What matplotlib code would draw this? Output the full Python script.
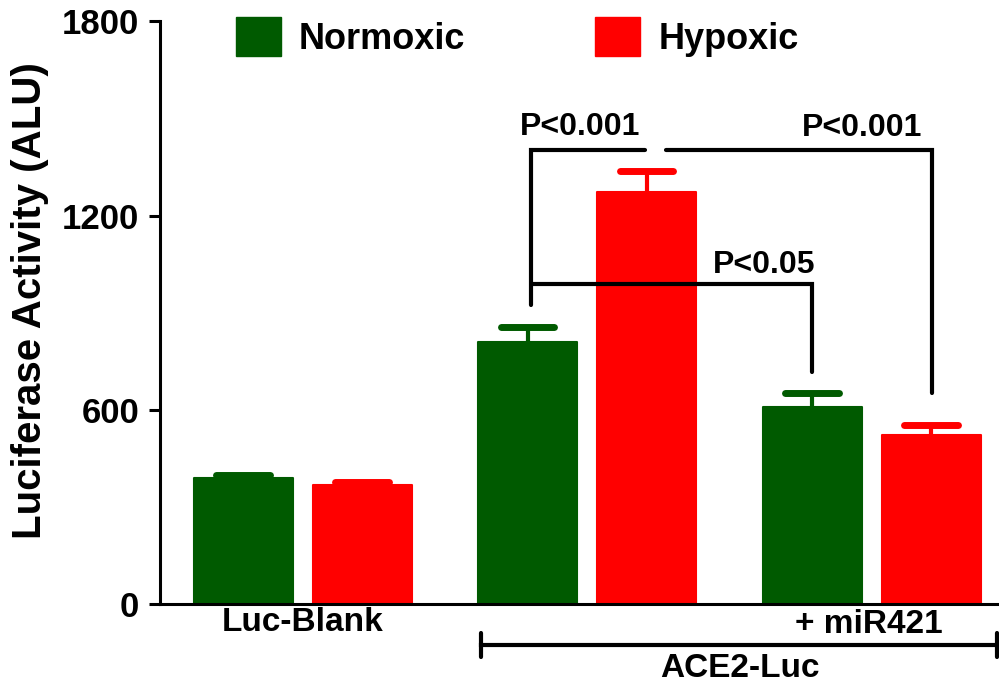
import numpy as np
import matplotlib.pyplot as plt
from matplotlib.patches import Patch

plt.rcParams['font.family'] = ['Liberation Sans', 'DejaVu Sans']
plt.rcParams['font.weight'] = 'bold'

# data
groups = ['Luc-Blank', 'ACE2-Luc', '+ miR421']
normoxic = [389, 809, 608]
hypoxic = [367, 1272, 522]
normoxic_err = [9, 46, 43]
hypoxic_err = [10, 65, 31]
series = ['Normoxic', 'Hypoxic']
yticks = [0, 600, 1200, 1800]

green = '#005a00'
red = '#ff0000'

centers = np.array([0.5, 2.89, 5.28])
width = 0.83
capw = 0.45

fig = plt.figure(figsize=(9.99, 6.86), dpi=100)
ax = fig.add_axes([0.160, 0.1195, 0.840, 0.8495])

for vals, errs, off, col in [(normoxic, normoxic_err, -0.5, green),
                             (hypoxic, hypoxic_err, 0.5, red)]:
    x = centers + off
    top = np.array(vals) + np.array(errs)
    ax.bar(x, vals, width=width, color=col, edgecolor=col, linewidth=1.5,
           joinstyle='round', zorder=2)
    # upper error bar only: stem + cap
    ax.vlines(x, vals, top, colors=col, lw=3, zorder=1)
    ax.hlines(top, x - capw / 2, x + capw / 2, colors=col, lw=5,
              capstyle='round', zorder=1)

ax.set_xlim(-0.70, 6.35)
ax.set_ylim(0, 1800)
ax.set_yticks(yticks)
ax.set_yticklabels([str(t) for t in yticks], fontsize=25, fontweight='bold')
ax.set_xticks([])
ax.tick_params(axis='y', length=8, width=2.2, pad=7)
for s in ['top', 'right']:
    ax.spines[s].set_visible(False)
for s in ['left', 'bottom']:
    ax.spines[s].set_linewidth(2.2)
ax.set_ylabel('Luciferase Activity (ALU)', fontsize=29, fontweight='bold', va='center')
ax.yaxis.set_label_coords(-0.155, 0.521)

# significance brackets
lw = 3
bk = dict(color='black', lw=lw, solid_capstyle='round', solid_joinstyle='miter', zorder=3)
gx, rx = centers[1] - 0.5, centers[1] + 0.5
mg, mr = centers[2] - 0.5, centers[2] + 0.5
ax.plot([gx + 0.03, gx + 0.03, rx - 0.01], [923, 1401, 1401], **bk)
ax.plot([rx + 0.16, mr + 0.01, mr + 0.01], [1401, 1401, 651], **bk)
ax.plot([gx + 0.03, mg, mg], [988, 988, 716], **bk)
ax.text(2.83, 1473, 'P<0.001', ha='center', va='center', fontsize=23, fontweight='bold')
ax.text(5.2, 1470, 'P<0.001', ha='center', va='center', fontsize=23, fontweight='bold')
ax.text(4.38, 1047, 'P<0.05', ha='center', va='center', fontsize=23, fontweight='bold')

# group labels under the axis
ax.text(0.5, -56, groups[0], ha='center', va='center', fontsize=24, fontweight='bold', clip_on=False)
ax.text(5.26, -64, groups[2], ha='center', va='center', fontsize=24, fontweight='bold', clip_on=False)
ax.text(4.17, -198, groups[1], ha='center', va='center', fontsize=24, fontweight='bold', clip_on=False)
ax.plot([2.0, 6.33], [-127, -127], color='black', lw=3, clip_on=False)
for xe in [2.0, 6.33]:
    ax.plot([xe, xe], [-90, -164], color='black', lw=3, solid_capstyle='round', clip_on=False)

handles = [Patch(facecolor=green, edgecolor=green, joinstyle='round'),
           Patch(facecolor=red, edgecolor=red, joinstyle='round')]
fig.legend(handles, series, loc='center left', bbox_to_anchor=(0.236, 0.946), ncol=2,
           frameon=False, handlelength=1.25, handleheight=1.25,
           handletextpad=0.5, columnspacing=3.6, borderpad=0, borderaxespad=0,
           prop={'weight': 'bold', 'size': 26})

fig.savefig('out.png', dpi=100)
